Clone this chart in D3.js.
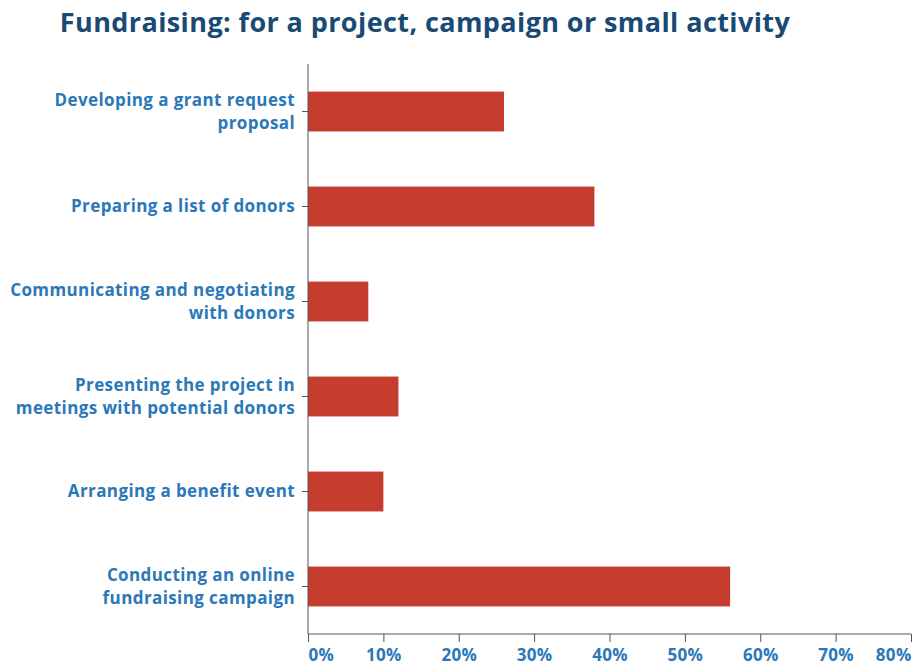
<!DOCTYPE html>
<html>
<head>
<meta charset="utf-8">
<script src="https://cdn.jsdelivr.net/npm/d3@7"></script>
<style>
  html, body { margin: 0; padding: 0; background: #fff; }
  svg { display: block; }
  text { font-family: "Open Sans", "DejaVu Sans", sans-serif; font-weight: 700; }
</style>
</head>
<body>
<svg id="chart" width="917" height="665"></svg>
<script>
// Activities (label lines) and share of respondents
const categories = [
  ["Developing a grant request", "proposal"],
  ["Preparing a list of donors"],
  ["Communicating and negotiating", "with donors"],
  ["Presenting the project in", "meetings with potential donors"],
  ["Arranging a benefit event"],
  ["Conducting an online", "fundraising campaign"]
];
const values = [26, 38, 8, 12, 10, 56];
const xTicks = [0, 10, 20, 30, 40, 50, 60, 70, 80];
const titleText = "Fundraising: for a project, campaign or small activity";

const svg = d3.select("#chart");
const W = 917, H = 665;
const margin = { top: 64, right: 6, bottom: 31, left: 308 };

const keys = categories.map((c, i) => i);
const x = d3.scaleLinear().domain([0, 80]).range([margin.left, W - margin.right]);
const y = d3.scaleBand().domain(keys).range([margin.top, H - margin.bottom])
  .paddingInner(0.58).paddingOuter(0.29);

const labelColor = "#2b78b8";
const axisColor = "#555";

// Title
svg.append("text")
  .attr("x", 425).attr("y", 32)
  .attr("text-anchor", "middle")
  .attr("fill", "#184a73")
  .attr("font-size", 27)
  .attr("letter-spacing", 0.4)
  .text(titleText);

// Bars
svg.append("g").selectAll("rect")
  .data(values)
  .join("rect")
  .attr("x", x(0))
  .attr("y", (d, i) => y(i))
  .attr("width", d => x(d) - x(0))
  .attr("height", y.bandwidth())
  .attr("fill", "#c63d2f");

// Category axis
const yAxis = svg.append("g")
  .attr("transform", `translate(${x(0)},0)`)
  .call(d3.axisLeft(y).tickSize(6).tickFormat(""));
yAxis.select(".domain").attr("stroke", axisColor).attr("d", `M0,${margin.top}V${H - margin.bottom}`);
yAxis.selectAll(".tick line").attr("stroke", axisColor);

const lineH = 23;
svg.append("g").selectAll("text")
  .data(categories)
  .join("text")
  .attr("text-anchor", "end")
  .attr("fill", labelColor)
  .attr("font-size", 17)
  .attr("letter-spacing", 0.4)
  .each(function (lines, i) {
    const cy = y(i) + y.bandwidth() / 2;
    const y0 = cy - (lines.length - 1) * lineH / 2;
    d3.select(this).selectAll("tspan")
      .data(lines)
      .join("tspan")
      .attr("x", 295)
      .attr("y", (d, j) => y0 + j * lineH)
      .attr("dy", "0.35em")
      .text(d => d);
  });

// Value axis
const xAxis = svg.append("g")
  .attr("transform", `translate(0,${H - margin.bottom})`)
  .call(d3.axisBottom(x).tickValues(xTicks).tickSize(8).tickFormat(d => d + "%"));
xAxis.select(".domain").attr("stroke", axisColor).attr("d", `M${x(0)},0H${x(80)}`);
xAxis.selectAll(".tick line").attr("stroke", axisColor);
xAxis.selectAll(".tick text")
  .attr("fill", labelColor)
  .attr("font-size", 17)
  .attr("font-family", '"Open Sans", sans-serif')
  .attr("font-weight", 700)
  .attr("letter-spacing", 0.3)
  .attr("y", 15)
  .attr("dy", "0.71em")
  .attr("text-anchor", (d, i) => i === 0 ? "start" : (i === xTicks.length - 1 ? "end" : "middle"));
</script>
</body>
</html>
